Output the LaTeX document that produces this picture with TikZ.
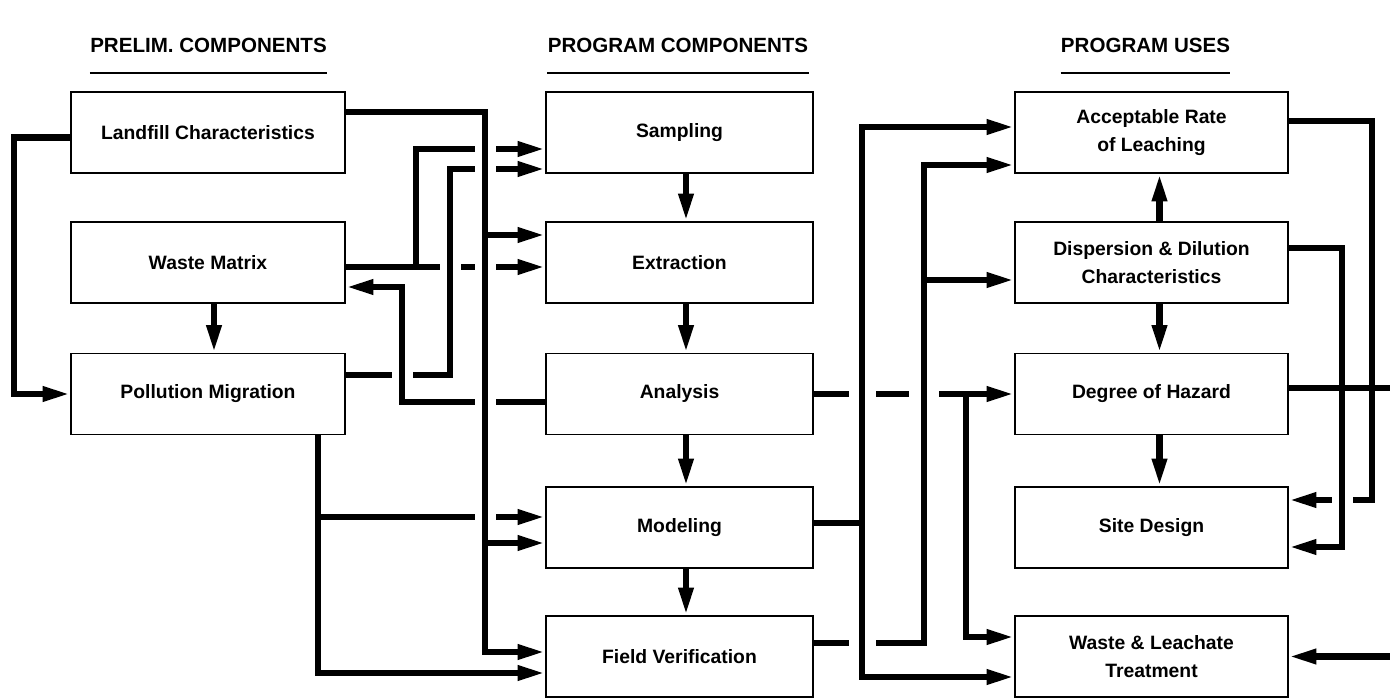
\documentclass[tikz,border=0pt]{standalone}
\usepackage{fontspec}
\setmainfont{Liberation Sans}
\usetikzlibrary{arrows.meta, calc, positioning}

\begin{document}
\begin{tikzpicture}[
  stage/.style={draw, line width=1pt, minimum width=#1, minimum height=1.62cm, align=center, inner sep=2pt, font=\bfseries\fontsize{11}{16}\selectfont},
  stage/.default=5.46cm,
  title/.style={inner sep=0pt, font=\bfseries\fontsize{11.7}{14}\selectfont},
  rule/.style={line width=1.2pt},
  wire/.style={line width=3.6pt},
  flow/.style={wire, -{Triangle[length=5.5mm, width=2.8mm]}},
  gap/.style={white, line width=#1},
  gap/.default=4.2mm
]
  \useasboundingbox (0,0) rectangle (27.8,-13.98);

  % column headings
  \node[title] (hprelim) at (4.17,-0.9) {PRELIM. COMPONENTS};
  \node[title] (hcomp) at (13.56,-0.9) {PROGRAM COMPONENTS};
  \node[title] (huses) at (22.91,-0.9) {PROGRAM USES};
  \foreach \h in {hprelim, hcomp, huses}
    \draw[rule] ([yshift=-4.1mm]\h.south west) -- ([yshift=-4.1mm]\h.south east);

  % preliminary components
  \node[stage=5.48cm] (lfc) at (4.16,-2.65) {Landfill Characteristics};
  \node[stage=5.48cm] (wm) at (4.16,-5.25) {Waste Matrix};
  \node[stage=5.48cm] (pm) at (4.16,-7.88) {Pollution Migration};

  % program components
  \node[stage=5.34cm] (smp) at (13.59,-2.65) {Sampling};
  \node[stage=5.34cm] (ext) at (13.59,-5.25) {Extraction};
  \node[stage=5.34cm] (ana) at (13.59,-7.88) {Analysis};
  \node[stage=5.34cm] (mdl) at (13.59,-10.55) {Modeling};
  \node[stage=5.34cm] (fld) at (13.59,-13.13) {Field Verification};

  % program uses
  \node[stage] (arl) at (23.03,-2.65) {Acceptable Rate\\of Leaching};
  \node[stage] (ddc) at (23.03,-5.25) {Dispersion \& Dilution\\Characteristics};
  \node[stage] (doh) at (23.03,-7.88) {Degree of Hazard};
  \node[stage] (sdes) at (23.03,-10.55) {Site Design};
  \node[stage] (wlt) at (23.03,-13.13) {Waste \& Leachate\\Treatment};

  % x positions of the vertical runs
  \coordinate (lft) at (0.28,0);
  \coordinate (anaUp) at (8.04,0);
  \coordinate (wmUp) at (8.32,0);
  \coordinate (pmUp) at (9.00,0);
  \coordinate (busL) at (9.70,0);
  \coordinate (busR) at (17.24,0);
  \coordinate (fldUp) at (18.48,0);
  \coordinate (anaDn) at (19.32,0);
  \coordinate (ddcDn) at (26.84,0);
  \coordinate (arlDn) at (27.44,0);
  \coordinate (rim) at (27.8,0);

  % ports on the left half
  \coordinate (lfcW) at ($(lfc.west)+(0,-0.1)$);
  \coordinate (lfcE) at ($(lfc.east)+(0,0.41)$);
  \coordinate (wmE) at ($(wm.east)+(0,-0.09)$);
  \coordinate (wmIn) at ($(wm.east)+(0,-0.49)$);
  \coordinate (pmE) at ($(pm.east)+(0,0.38)$);
  \coordinate (pmS) at ($(pm.south)+(2.2,0)$);
  \coordinate (smpA) at ($(smp.west)+(0,-0.33)$);
  \coordinate (smpB) at ($(smp.west)+(0,-0.73)$);
  \coordinate (extA) at ($(ext.west)+(0,0.55)$);
  \coordinate (extB) at ($(ext.west)+(0,-0.09)$);
  \coordinate (anaW) at ($(ana.west)+(0,-0.16)$);
  \coordinate (mdlA) at ($(mdl.west)+(0,0.21)$);
  \coordinate (mdlB) at ($(mdl.west)+(0,-0.31)$);
  \coordinate (fldA) at ($(fld.west)+(0,0.09)$);
  \coordinate (fldB) at ($(fld.west)+(0,-0.33)$);

  % ports on the right half
  \coordinate (mdlE) at ($(mdl.east)+(0,0.09)$);
  \coordinate (fldE) at ($(fld.east)+(0,0.27)$);
  \coordinate (arlA) at ($(arl.west)+(0,0.11)$);
  \coordinate (arlB) at ($(arl.west)+(0,-0.65)$);
  \coordinate (ddcW) at ($(ddc.west)+(0,-0.35)$);
  \coordinate (wltA) at ($(wlt.west)+(0,0.39)$);
  \coordinate (wltB) at ($(wlt.west)+(0,-0.41)$);
  \coordinate (arlE) at ($(arl.east)+(0,0.23)$);
  \coordinate (ddcE) at ($(ddc.east)+(0,0.29)$);
  \coordinate (dohE) at ($(doh.east)+(0,0.12)$);
  \coordinate (sdA) at ($(sdes.east)+(0,0.55)$);
  \coordinate (sdB) at ($(sdes.east)+(0,-0.39)$);

  % waste matrix to sampling and extraction
  \draw[flow] (wmE) -- (extB);
  \draw[flow] (wmE -| wmUp) |- (smpA);
  % pollution migration to modeling and field verification
  \draw[flow] (pmS) |- (fldB);
  \draw[flow] (pmS |- mdlA) -- (mdlA);
  % pollution migration to sampling
  \draw[gap] (smpB -| pmUp) -- (pmE -| pmUp);
  \draw[flow] (pmE) -- (pmE -| pmUp) |- (smpB);
  % analysis back to waste matrix
  \draw[gap] (anaW -| anaUp) -- (wmIn -| anaUp);
  \draw[flow] (anaW) -- (anaW -| anaUp) |- (wmIn);
  % landfill characteristics bus
  \draw[gap] (lfcE -| busL) -- (fldA -| busL);
  \draw[flow] (lfcE) -- (lfcE -| busL) |- (fldA);
  \draw[flow] (extA -| busL) -- (extA);
  \draw[flow] (mdlB -| busL) -- (mdlB);
  % landfill characteristics to pollution migration
  \draw[flow] (lfcW) -- (lfcW -| lft) |- (pm.west);
  % steps down the columns
  \draw[flow] ([xshift=1.2mm]wm.south) -- ([xshift=1.2mm]pm.north);
  \foreach \a/\b in {smp/ext, ext/ana, ana/mdl, mdl/fld}
    \draw[flow] ([xshift=1.3mm]\a.south) -- ([xshift=1.3mm]\b.north);

  % analysis to degree of hazard and treatment
  \draw[flow] (ana.east) -- (doh.west);
  \draw[flow] (ana.east -| anaDn) |- (wltA);
  % field verification up to acceptable rate and dispersion
  \draw[gap=6mm] (fldE -| fldUp) -- (arlB -| fldUp);
  \draw[flow] (fldE) -- (fldE -| fldUp) |- (arlB);
  \draw[flow] (ddcW -| fldUp) -- (ddcW);
  % modeling bus
  \draw[gap=5.4mm] (arlA -| busR) -- (wltB -| busR);
  \draw[flow] (mdlE) -- (mdlE -| busR) |- (arlA);
  \draw[flow] (mdlE -| busR) |- (wltB);

  % feedback into site design
  \draw[flow] (arlE) -- (arlE -| arlDn) |- (sdA);
  \draw[gap] (ddcE -| ddcDn) -- (sdB -| ddcDn);
  \draw[flow] (ddcE) -- (ddcE -| ddcDn) |- (sdB);
  % lines leaving and entering at the right edge
  \draw[wire] (dohE) -- (dohE -| rim);
  \draw[flow] (wlt.east -| rim) -- (wlt.east);
  % steps between the uses
  \draw[flow] ([xshift=1.6mm]ddc.north) -- ([xshift=1.6mm]arl.south);
  \draw[flow] ([xshift=1.6mm]ddc.south) -- ([xshift=1.6mm]doh.north);
  \draw[flow] ([xshift=1.6mm]doh.south) -- ([xshift=1.6mm]sdes.north);
\end{tikzpicture}
\end{document}
